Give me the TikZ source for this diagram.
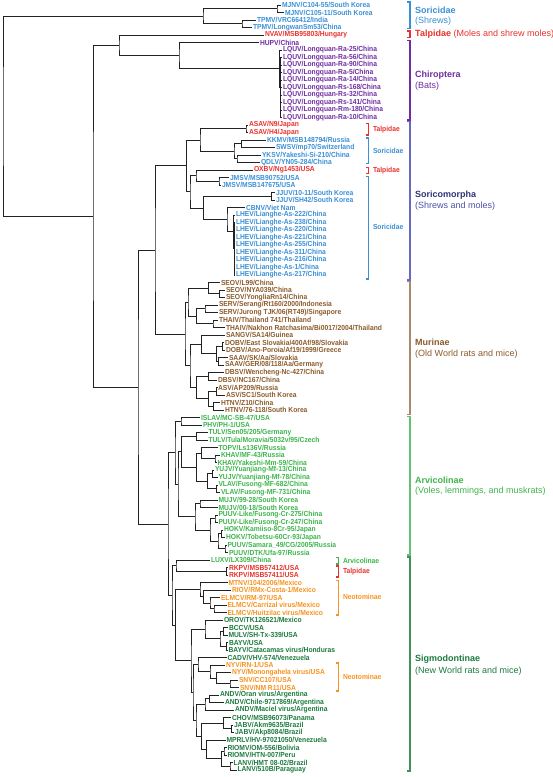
\documentclass[tikz,border=0pt]{standalone}
\usepackage{fontspec}
\setmainfont{Liberation Sans}
\newfontfamily\labfont[FakeStretch=0.92]{Liberation Sans}
\usetikzlibrary{calc}
\definecolor{cSor}{HTML}{3A8FD5}
\definecolor{cTal}{HTML}{E8312B}
\definecolor{cChi}{HTML}{6F2DA0}
\definecolor{cSmT}{HTML}{2C3278}
\definecolor{cSmS}{HTML}{4A50A8}
\definecolor{cSmB}{HTML}{6868C0}
\definecolor{cMur}{HTML}{8B5A2B}
\definecolor{cMurB}{HTML}{A88A6A}
\definecolor{cArv}{HTML}{3CB44B}
\definecolor{cArvB}{HTML}{62C272}
\definecolor{cSig}{HTML}{1B7A3E}
\definecolor{cSigB}{HTML}{3F8F5F}
\definecolor{cNeo}{HTML}{F7931E}
\definecolor{cTree}{HTML}{222222}
\newcommand\lf[5]{\coordinate (#1) at (#3,{5+7.5*(#2-1)});
  \node[lab,text=#4] (#1t) at (#1) {#5};}
\newcommand\nd[4]{\path let \p1=(#3), \p2=(#4) in coordinate (#1) at (#2pt,{0.5*(\y1+\y2)});
  \draw[tree] (#3) -| (#1) |- (#4);}
\newcommand\brk[5]{\draw[brack,draw=#4] (#1-3,#2) -- (#1,#2) -- (#1,#3) -- (#1-3,#3);}
\begin{document}
\begin{tikzpicture}[x=1pt,y=-1pt,
  lab/.style={font={\labfont\fontsize{7.3pt}{7.3pt}\selectfont\bfseries},inner sep=0.8pt,anchor=west},
  tree/.style={line width=0.9pt,draw=cTree},
  brack/.style={line width=1.1pt},
  ctitle/.style={font={\fontsize{9pt}{10pt}\selectfont\bfseries},inner sep=0pt,anchor=west},
  csub/.style={font={\fontsize{9pt}{10pt}\selectfont},inner sep=0pt,anchor=west}]
\useasboundingbox (0,0) rectangle (553,777);
% ---------- leaves ----------
\lf{L1}{1}{281}{cSor}{MJNV/C104-55/South Korea}
\lf{L2}{2}{284}{cSor}{MJNV/C105-11/South Korea}
\lf{L3}{3}{256}{cSor}{TPMV/VRC66412/India}
\lf{L4}{4}{252}{cSor}{TPMV/LongwanSm53/China}
\lf{L5}{5}{264}{cTal}{NVAV/MSB95803/Hungary}
\lf{L6}{6}{259}{cChi}{HUPV/China}
\lf{L7}{7}{282}{cChi}{LQUV/Longquan-Ra-25/China}
\lf{L8}{8}{282}{cChi}{LQUV/Longquan-Ra-56/China}
\lf{L9}{9}{282}{cChi}{LQUV/Longquan-Ra-90/China}
\lf{L10}{10}{282}{cChi}{LQUV/Longquan-Ra-5/China}
\lf{L11}{11}{282}{cChi}{LQUV/Longquan-Ra-14/China}
\lf{L12}{12}{282}{cChi}{LQUV/Longquan-Rs-168/China}
\lf{L13}{13}{282}{cChi}{LQUV/Longquan-Rs-32/China}
\lf{L14}{14}{282}{cChi}{LQUV/Longquan-Rs-141/China}
\lf{L15}{15}{282}{cChi}{LQUV/Longquan-Rm-180/China}
\lf{L16}{16}{282}{cChi}{LQUV/Longquan-Ra-10/China}
\lf{L17}{17}{248}{cTal}{ASAV/N9/Japan}
\lf{L18}{18}{248}{cTal}{ASAV/H4/Japan}
\lf{L19}{19}{266}{cSor}{KKMV/MSB148794/Russia}
\lf{L20}{20}{275}{cSor}{SWSV/mp70/Switzerland}
\lf{L21}{21}{261}{cSor}{YKSV/Yakeshi-Si-210/China}
\lf{L22}{22}{260}{cSor}{QDLV/YN05-284/China}
\lf{L23}{23}{253}{cTal}{OXBV/Ng1453/USA}
\lf{L24}{24}{229}{cSor}{JMSV/MSB90752/USA}
\lf{L25}{25}{221}{cSor}{JMSV/MSB147675/USA}
\lf{L26}{26}{275}{cSor}{JJUV/10-11/South Korea}
\lf{L27}{27}{275}{cSor}{JJUV/SH42/South Korea}
\lf{L28}{28}{245}{cSor}{CBNV/Viet Nam}
\lf{L29}{29}{235}{cSor}{LHEV/Lianghe-As-222/China}
\lf{L30}{30}{235}{cSor}{LHEV/Lianghe-As-238/China}
\lf{L31}{31}{235}{cSor}{LHEV/Lianghe-As-220/China}
\lf{L32}{32}{235}{cSor}{LHEV/Lianghe-As-221/China}
\lf{L33}{33}{235}{cSor}{LHEV/Lianghe-As-255/China}
\lf{L34}{34}{235}{cSor}{LHEV/Lianghe-As-311/China}
\lf{L35}{35}{235}{cSor}{LHEV/Lianghe-As-216/China}
\lf{L36}{36}{235}{cSor}{LHEV/Lianghe-As-1/China}
\lf{L37}{37}{235}{cSor}{LHEV/Lianghe-As-217/China}
\lf{L38}{38}{220}{cMur}{SEOV/L99/China}
\lf{L39}{39}{225}{cMur}{SEOV/NYA039/China}
\lf{L40}{40}{225}{cMur}{SEOV/YongliaRn14/China}
\lf{L41}{41}{218}{cMur}{SERV/Serang/Rt160/2000/Indonesia}
\lf{L42}{42}{218}{cMur}{SERV/Jurong TJK/06(RT49)/Singapore}
\lf{L43}{43}{218}{cMur}{THAIV/Thailand 741/Thailand}
\lf{L44}{44}{225}{cMur}{THAIV/Nakhon Ratchasima/Bi0017/2004/Thailand}
\lf{L45}{45}{225}{cMur}{SANGV/SA14/Guinea}
\lf{L46}{46}{224}{cMur}{DOBV/East Slovakia/400Af/98/Slovakia}
\lf{L47}{47}{225}{cMur}{DOBV/Ano-Poroia/Af19/1999/Greece}
\lf{L48}{48}{228}{cMur}{SAAV/SK/Aa/Slovakia}
\lf{L49}{49}{224}{cMur}{SAAV/GER/08/118/Aa/Germany}
\lf{L50}{50}{224}{cMur}{DBSV/Wencheng-Nc-427/China}
\lf{L51}{51}{217}{cMur}{DBSV/NC167/China}
\lf{L52}{52}{217}{cMur}{ASV/AP209/Russia}
\lf{L53}{53}{225}{cMur}{ASV/SC1/South Korea}
\lf{L54}{54}{220}{cMur}{HTNV/Z10/China}
\lf{L55}{55}{224}{cMur}{HTNV/76-118/South Korea}
\lf{L56}{56}{200}{cArv}{ISLAV/MC-SB-47/USA}
\lf{L57}{57}{202}{cArv}{PHV/PH-1/USA}
\lf{L58}{58}{207.5}{cArv}{TULV/Sen05/205/Germany}
\lf{L59}{59}{207.5}{cArv}{TULV/Tula/Moravia/5032v/95/Czech}
\lf{L60}{60}{217.5}{cArv}{TOPV/Ls136V/Russia}
\lf{L61}{61}{220}{cArv}{KHAV/MF-43/Russia}
\lf{L62}{62}{216.5}{cArv}{KHAV/Yakeshi-Mm-59/China}
\lf{L63}{63}{214}{cArv}{YUJV/Yuanjiang-Mf-13/China}
\lf{L64}{64}{217.5}{cArv}{YUJV/Yuanjiang-Mf-78/China}
\lf{L65}{65}{217.5}{cArv}{VLAV/Fusong-MF-682/China}
\lf{L66}{66}{220}{cArv}{VLAV/Fusong-MF-731/China}
\lf{L67}{67}{217.5}{cArv}{MUJV/99-28/South Korea}
\lf{L68}{68}{217.5}{cArv}{MUJV/00-18/South Korea}
\lf{L69}{69}{217.5}{cArv}{PUUV-Like/Fusong-Cr-275/China}
\lf{L70}{70}{217.5}{cArv}{PUUV-Like/Fusong-Cr-247/China}
\lf{L71}{71}{223}{cArv}{HOKV/Kamiiso-8Cr-95/Japan}
\lf{L72}{72}{225}{cArv}{HOKV/Tobetsu-60Cr-93/Japan}
\lf{L73}{73}{226.5}{cArv}{PUUV/Samara\_49/CG/2005/Russia}
\lf{L74}{74}{228}{cArv}{PUUV/DTK/Ufa-97/Russia}
\lf{L75}{75}{210}{cArv}{LUXV/LX309/China}
\lf{L76}{76}{228}{cTal}{RKPV/MSB57412/USA}
\lf{L77}{77}{228}{cTal}{RKPV/MSB57411/USA}
\lf{L78}{78}{227.5}{cNeo}{MTNV/104/2006/Mexico}
\lf{L79}{79}{231}{cNeo}{RIOV/RMx-Costa-1/Mexico}
\lf{L80}{80}{220}{cNeo}{ELMCV/RM-97/USA}
\lf{L81}{81}{226.5}{cNeo}{ELMCV/Carrizal virus/Mexico}
\lf{L82}{82}{226.5}{cNeo}{ELMCV/Huitzilac virus/Mexico}
\lf{L83}{83}{223}{cSig}{OROV/TK126521/Mexico}
\lf{L84}{84}{228}{cSig}{BCCV/USA}
\lf{L85}{85}{227.5}{cSig}{MULV/SH-Tx-339/USA}
\lf{L86}{86}{228}{cSig}{BAYV/USA}
\lf{L87}{87}{227.5}{cSig}{BAYV/Catacamas virus/Honduras}
\lf{L88}{88}{226.5}{cSig}{CADV/VHV-574/Venezuela}
\lf{L89}{89}{225}{cNeo}{NYV/RN-1/USA}
\lf{L90}{90}{231}{cNeo}{NYV/Monongahela virus/USA}
\lf{L91}{91}{238}{cNeo}{SNV/CC107/USA}
\lf{L92}{92}{239}{cNeo}{SNV/NM R11/USA}
\lf{L93}{93}{219}{cSig}{ANDV/Oran virus/Argentina}
\lf{L94}{94}{224}{cSig}{ANDV/Chile-9717869/Argentina}
\lf{L95}{95}{234}{cSig}{ANDV/Maciel virus/Argentina}
\lf{L96}{96}{231}{cSig}{CHOV/MSB96073/Panama}
\lf{L97}{97}{233}{cSig}{JABV/Akm9635/Brazil}
\lf{L98}{98}{234}{cSig}{JABV/Akp8084/Brazil}
\lf{L99}{99}{225.5}{cSig}{MPRLV/HV-97021050/Venezuela}
\lf{L100}{100}{226.5}{cSig}{RIOMV/OM-556/Bolivia}
\lf{L101}{101}{226.5}{cSig}{RIOMV/HTN-007/Peru}
\lf{L102}{102}{232.5}{cSig}{LANV/HMT 08-02/Brazil}
\lf{L103}{103}{236.5}{cSig}{LANV/510B/Paraguay}
% ---------- internal nodes ----------
\nd{MJ}{277}{L1}{L2}
\nd{TP}{242}{L3}{L4}
\nd{A}{203}{MJ}{TP}
\nd{LQb}{280.5}{L8}{L16}
\foreach \c in {L9,L10,L11,L12,L13,L14,L15} \draw[tree] (LQb) |- (\c);
\nd{LQ}{279.5}{L7}{LQb}
\nd{E}{179}{L6}{LQ}
\nd{C}{119}{L5}{E}
\nd{AS}{246}{L17}{L18}
\nd{S1}{241.7}{L19}{L20}
\nd{S2}{237}{L21}{L22}
\nd{S3}{234}{S1}{S2}
\nd{SOa}{200}{AS}{S3}
\nd{JM}{219}{L24}{L25}
\nd{OX}{196}{L23}{JM}
\nd{JJ}{271.7}{L26}{L27}
\nd{LHb}{234}{L30}{L37}
\foreach \c in {L31,L32,L33,L34,L35,L36} \draw[tree] (LHb) |- (\c);
\nd{LH}{233.3}{L29}{LHb}
\nd{CL}{227}{L28}{LH}
\nd{JC}{203.3}{JJ}{CL}
\nd{SOb}{190}{OX}{JC}
\nd{SO}{186.7}{SOa}{SOb}
\nd{SE2}{219.3}{L39}{L40}
\nd{SE}{208.3}{L38}{SE2}
\nd{SR}{205}{L41}{L42}
\nd{TH}{213}{L43}{L44}
\nd{ST}{196.7}{SR}{TH}
\nd{SEg}{188}{SE}{ST}
\nd{DO}{222.7}{L46}{L47}
\nd{SA}{218.3}{L48}{L49}
\nd{DS}{216.7}{DO}{SA}
\nd{SG}{201.7}{L45}{DS}
\nd{DB}{208.3}{L50}{L51}
\nd{AV}{216.7}{L52}{L53}
\nd{HT}{213.3}{L54}{L55}
\nd{AH}{208.3}{AV}{HT}
\nd{DAH}{196.7}{DB}{AH}
\nd{SGD}{190}{SG}{DAH}
\nd{Mur}{185}{SEg}{SGD}
\nd{F}{155}{SO}{Mur}
\nd{IP}{181}{L56}{L57}
\nd{TU}{196.7}{L58}{L59}
\nd{KH}{215}{L61}{L62}
\nd{TK}{201.7}{L60}{KH}
\nd{YU}{212.7}{L63}{L64}
\nd{VL}{216.7}{L65}{L66}
\nd{YV}{207.3}{YU}{VL}
\nd{TKYV}{196.7}{TK}{YV}
\nd{TT}{181.7}{TU}{TKYV}
\nd{MU}{200}{L67}{L68}
\nd{PL}{215}{L69}{L70}
\nd{HO}{221.7}{L71}{L72}
\nd{PU}{225}{L73}{L74}
\nd{HP}{218}{HO}{PU}
\nd{PLHP}{210}{PL}{HP}
\nd{MPH}{195}{MU}{PLHP}
\nd{X}{178}{TT}{MPH}
\nd{Arv}{175}{IP}{X}
\nd{RK}{226.7}{L76}{L77}
\nd{LR}{176}{L75}{RK}
\nd{EC}{214}{L81}{L82}
\nd{E3}{210}{L80}{EC}
\nd{RE}{203.3}{L79}{E3}
\nd{N1}{200}{L78}{RE}
\nd{BM}{223.3}{L84}{L85}
\nd{BAY}{226.7}{L86}{L87}
\nd{BMB}{220}{BM}{BAY}
\nd{OG}{205}{L83}{BMB}
\nd{SN}{230}{L91}{L92}
\nd{NM}{216.7}{L90}{SN}
\nd{N2}{210}{L89}{NM}
\nd{X1}{198}{L88}{N2}
\nd{OC}{209.3}{L93}{L94}
\nd{AN}{205}{OC}{L95}
\nd{JA}{231.7}{L97}{L98}
\nd{CJ}{223.3}{L96}{JA}
\nd{RI}{224}{L100}{L101}
\nd{LA}{230}{L102}{L103}
\nd{RL}{221.7}{RI}{LA}
\nd{MRL}{206.7}{L99}{RL}
\nd{CM}{201.7}{CJ}{MRL}
\nd{X2}{196}{AN}{CM}
\nd{RS2}{193}{X1}{X2}
\nd{R2}{191}{OG}{RS2}
\nd{SS}{175.7}{N1}{R2}
\nd{Sig}{172}{LR}{SS}
\nd{G}{168}{Arv}{Sig}
\nd{D}{138}{F}{G}
\nd{B}{93}{C}{D}
\nd{R}{3}{A}{B}
% ---------- small brackets ----------
\brk{368.5}{123.5}{135}{cTal}{}
\brk{368.5}{138}{163.5}{cSor}{}
\brk{368.5}{167.5}{173.5}{cTal}{}
\brk{368.5}{176.5}{279}{cSor}{}
\node[lab,text=cTal] (tal1) at (372,129.3) {Talpidae};
\node[lab,text=cSor] (sor1) at (372,150.7) {Soricidae};
\node[lab,text=cTal] (tal2) at (372,170.5) {Talpidae};
\node[lab,text=cSor] (sor2) at (372,227) {Soricidae};
\brk{338.5}{557.5}{564}{cArv}{}
\brk{338.5}{566}{577}{cTal}{}
\brk{338.5}{580.5}{615}{cNeo}{}
\brk{338.5}{663}{691}{cNeo}{}
\node[lab,text=cArv] (arv2) at (342,560.7) {Arvicolinae};
\node[lab,text=cTal] (tal3) at (342,571.5) {Talpidae};
\node[lab,text=cNeo] (neo1) at (342,597.3) {Neotominae};
\node[lab,text=cNeo] (neo2) at (342,676.7) {Neotominae};
% ---------- big brackets ----------
\brk{410}{2}{28.5}{cSor}{}
\brk{410}{31}{37.5}{cTal}{}
\brk{410}{40.5}{120}{cChi}{}
\brk{410}{121.5}{280}{cSmB}{}
\brk{410}{281.5}{414.5}{cMurB}{}
\brk{410}{416.5}{555}{cArvB}{}
\brk{410}{557}{771}{cSigB}{}
\node[ctitle,text=cSor] (t1) at (415,10) {Soricidae};
\node[csub,text=cSor] (s1) at (415,21) {(Shrews)};
\node[ctitle,text=cTal] (t2) at (415,34) {Talpidae \mdseries(Moles and shrew moles)};
\node[ctitle,text=cChi] (t3) at (415,75) {Chiroptera};
\node[csub,text=cChi] (s3) at (415,86.5) {(Bats)};
\node[ctitle,text=cSmT] (t4) at (415,195) {Soricomorpha};
\node[csub,text=cSmS] (s4) at (415,206.5) {(Shrews and moles)};
\node[ctitle,text=cMur] (t5) at (415,342.5) {Murinae};
\node[csub,text=cMur] (s5) at (415,354) {(Old World rats and mice)};
\node[ctitle,text=cArv] (t6) at (415,480) {Arvicolinae};
\node[csub,text=cArv] (s6) at (415,491.5) {(Voles, lemmings, and muskrats)};
\node[ctitle,text=cSig] (t7) at (415,659.3) {Sigmodontinae};
\node[csub,text=cSig] (s7) at (415,670.7) {(New World rats and mice)};
\end{tikzpicture}
\end{document}
